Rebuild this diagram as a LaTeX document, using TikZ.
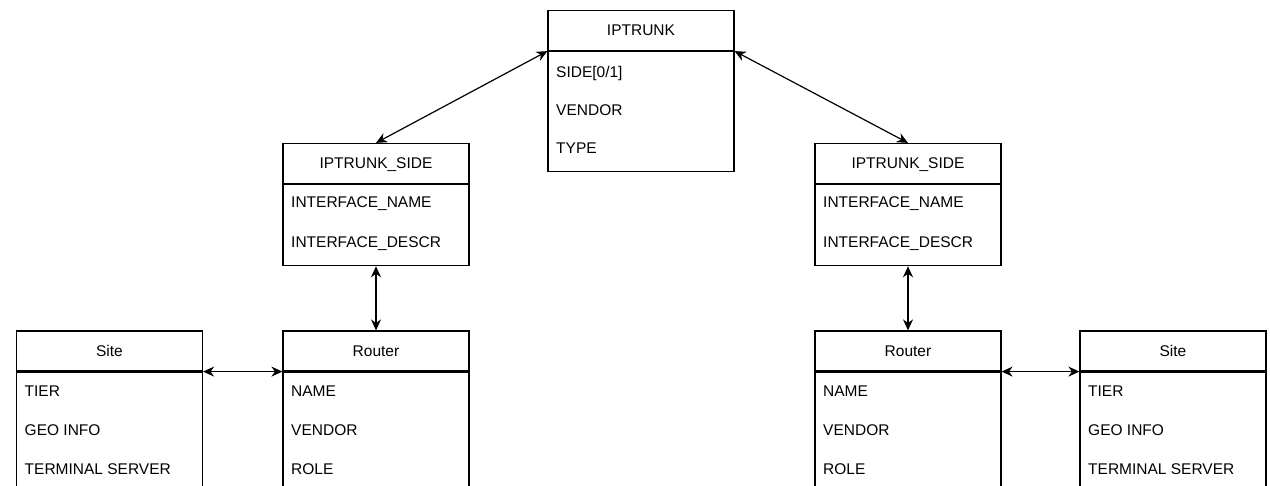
\documentclass[tikz,border=0pt]{standalone}
\usepackage{fontspec}
\setmainfont{Liberation Sans}
\usetikzlibrary{arrows.meta}

\tikzset{
    head/.style={draw, line width=1.2pt, minimum width=186pt, minimum height=40pt, inner sep=0pt,
        text height=11pt, text depth=0pt, font=\fontsize{15.5}{18}\selectfont},
    body/.style={draw, line width=1.2pt, minimum width=186pt, anchor=north, inner sep=0pt},
    field/.style={anchor=west, inner sep=0pt, text height=11pt, text depth=0pt,
        font=\fontsize{15.5}{18}\selectfont},
    link/.style={{Stealth[length=11pt,width=10pt]}-{Stealth[length=11pt,width=10pt]}, line width=1.2pt}
}

\begin{document}
\begin{tikzpicture}[x=1pt, y=-1pt]
            \useasboundingbox (0,0) rectangle (1270,486);

            % trunk
            \node[head] (trunk) at (641,30.5) {IPTRUNK};
            \node[body, minimum height=120pt] (trunkB) at (trunk.south) {};
            \node[field] (trunkF1) at (556,72) {SIDE[0/1]};
            \node[field] (trunkF2) at (556,110) {VENDOR};
            \node[field] (trunkF3) at (556,148) {TYPE};

            % trunk sides
            \node[head] (sideA) at (376,163.5) {IPTRUNK\_SIDE};
            \node[body, minimum height=81pt] (sideAB) at (sideA.south) {};
            \node[field] (sideAF1) at (291,202) {INTERFACE\_NAME};
            \node[field] (sideAF2) at (291,242) {INTERFACE\_DESCR};

            \node[head] (sideB) at (908,163.5) {IPTRUNK\_SIDE};
            \node[body, minimum height=81pt] (sideBB) at (sideB.south) {};
            \node[field] (sideBF1) at (823,202) {INTERFACE\_NAME};
            \node[field] (sideBF2) at (823,242) {INTERFACE\_DESCR};

            \draw[link] (trunk.south west) -- (sideA.north);
            \draw[link] (trunk.south east) -- (sideB.north);

            % routers
            \node[head] (routerA) at (376,351) {Router};
            \node[body, minimum height=120pt] (routerAB) at (routerA.south) {};
            \node[field] (routerAF1) at (291,391) {NAME};
            \node[field] (routerAF2) at (291,430) {VENDOR};
            \node[field] (routerAF3) at (291,469) {ROLE};

            \node[head] (routerB) at (908,351) {Router};
            \node[body, minimum height=120pt] (routerBB) at (routerB.south) {};
            \node[field] (routerBF1) at (823,391) {NAME};
            \node[field] (routerBF2) at (823,430) {VENDOR};
            \node[field] (routerBF3) at (823,469) {ROLE};

            \draw[link] (sideAB.south) -- (routerA.north);
            \draw[link] (sideBB.south) -- (routerB.north);

            % sites
            \node[head] (siteA) at (109.5,351) {Site};
            \node[body, minimum height=120pt] (siteAB) at (siteA.south) {};
            \node[field] (siteAF1) at (24.5,391) {TIER};
            \node[field] (siteAF2) at (24.5,430) {GEO INFO};
            \node[field] (siteAF3) at (24.5,469) {TERMINAL SERVER};

            \node[head] (siteB) at (1173,351) {Site};
            \node[body, minimum height=120pt] (siteBB) at (siteB.south) {};
            \node[field] (siteBF1) at (1088,391) {TIER};
            \node[field] (siteBF2) at (1088,430) {GEO INFO};
            \node[field] (siteBF3) at (1088,469) {TERMINAL SERVER};

            \draw[link] (siteA.south east) -- (routerA.south west);
            \draw[link] (routerB.south east) -- (siteB.south west);
        \end{tikzpicture}
\end{document}
